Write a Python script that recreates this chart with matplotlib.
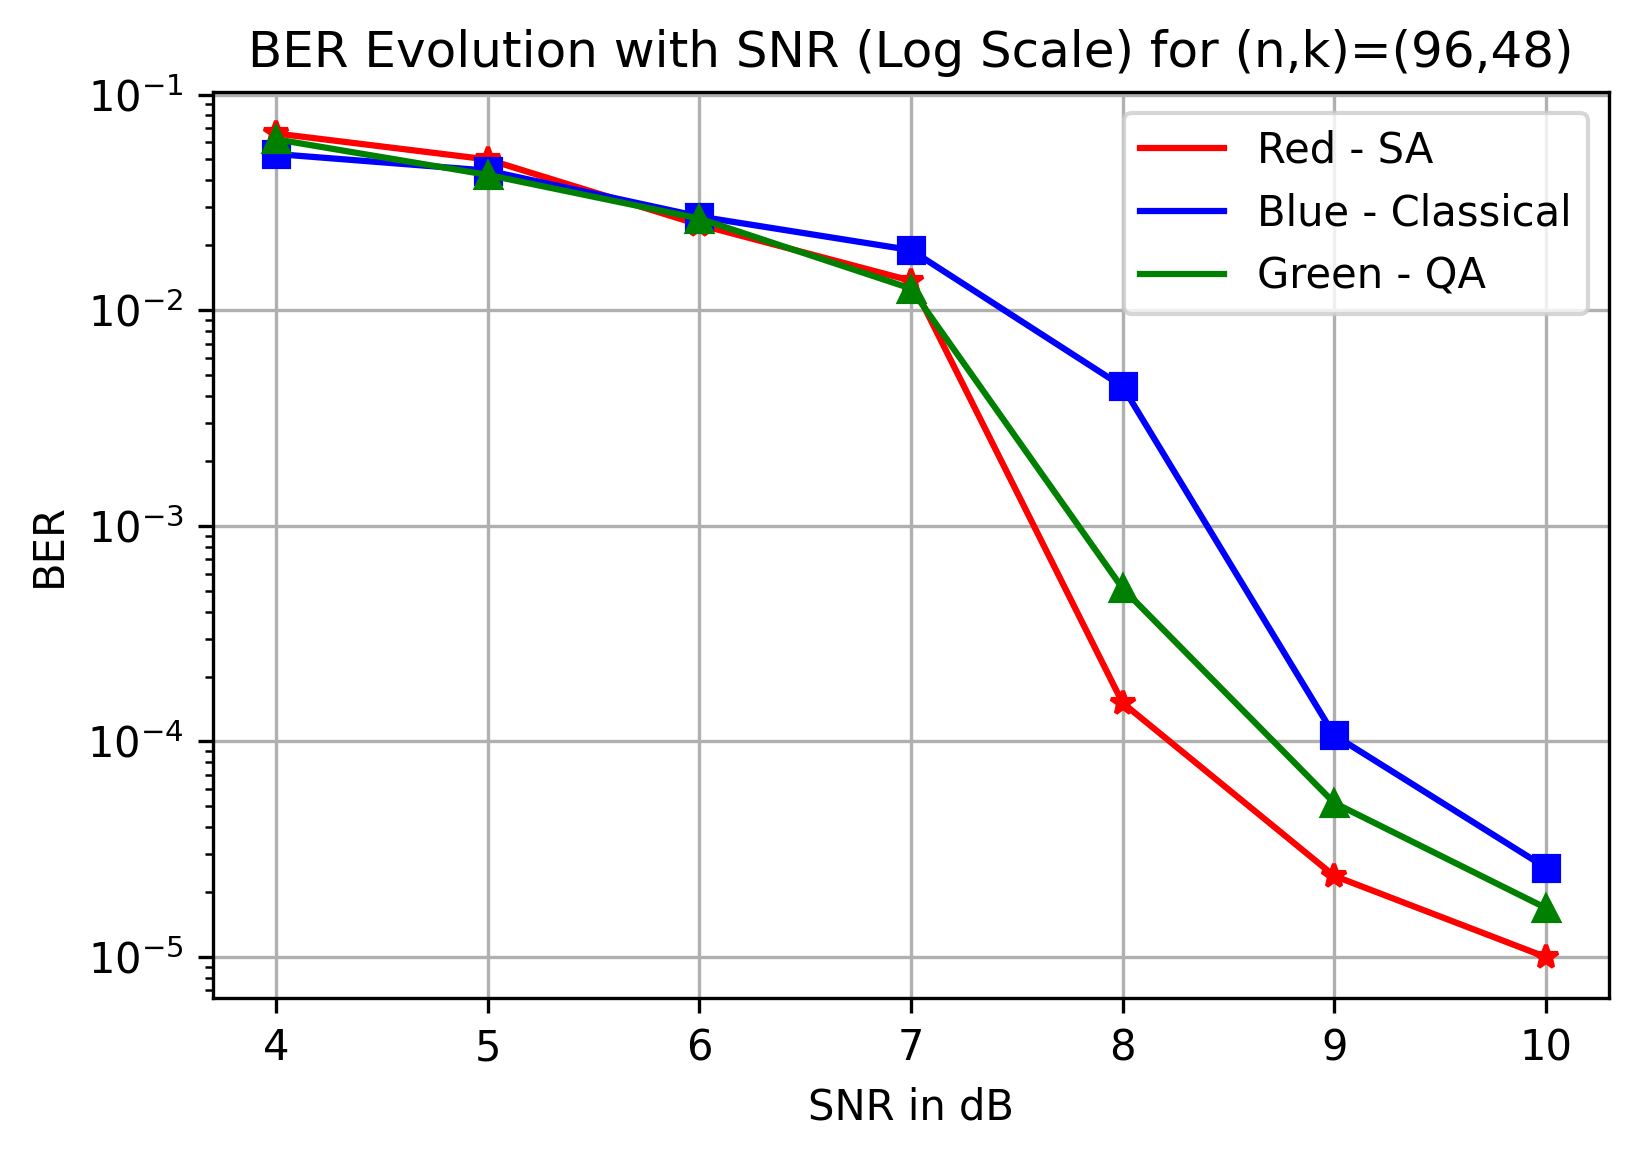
import matplotlib
matplotlib.use("Agg")
import matplotlib.pyplot as plt

snr_db = [4, 5, 6, 7, 8, 9, 10]

ber_sa = [0.066, 0.050, 0.0249, 0.0137, 1.51e-4, 2.38e-5, 1.0e-5]
ber_classical = [0.053, 0.0444, 0.0272, 0.019, 4.43e-3, 1.07e-4, 2.6e-5]
ber_qa = [0.062, 0.0424, 0.0266, 0.0126, 5.13e-4, 5.19e-5, 1.69e-5]

fig = plt.figure(figsize=(1637 / 300, 1154 / 300), dpi=300)
ax = fig.add_subplot(111)
fig.subplots_adjust(left=0.130, right=0.983, top=0.920, bottom=0.135)

# lines carry the legend labels, markers are drawn on top without labels
ax.semilogy(snr_db, ber_sa, color="red", label="Red - SA")
ax.semilogy(snr_db, ber_sa, "r*", markersize=6)
ax.semilogy(snr_db, ber_classical, color="blue", label="Blue - Classical")
ax.semilogy(snr_db, ber_classical, "bs", markersize=6)
ax.semilogy(snr_db, ber_qa, color="green", label="Green - QA")
ax.semilogy(snr_db, ber_qa, "g^", markersize=6)

ax.set_title("BER Evolution with SNR (Log Scale) for (n,k)=(96,48)")
ax.set_xlabel("SNR in dB")
ax.set_ylabel("BER")
ax.grid(True)
ax.legend(loc="upper right")

fig.savefig("out.png", dpi=300)
